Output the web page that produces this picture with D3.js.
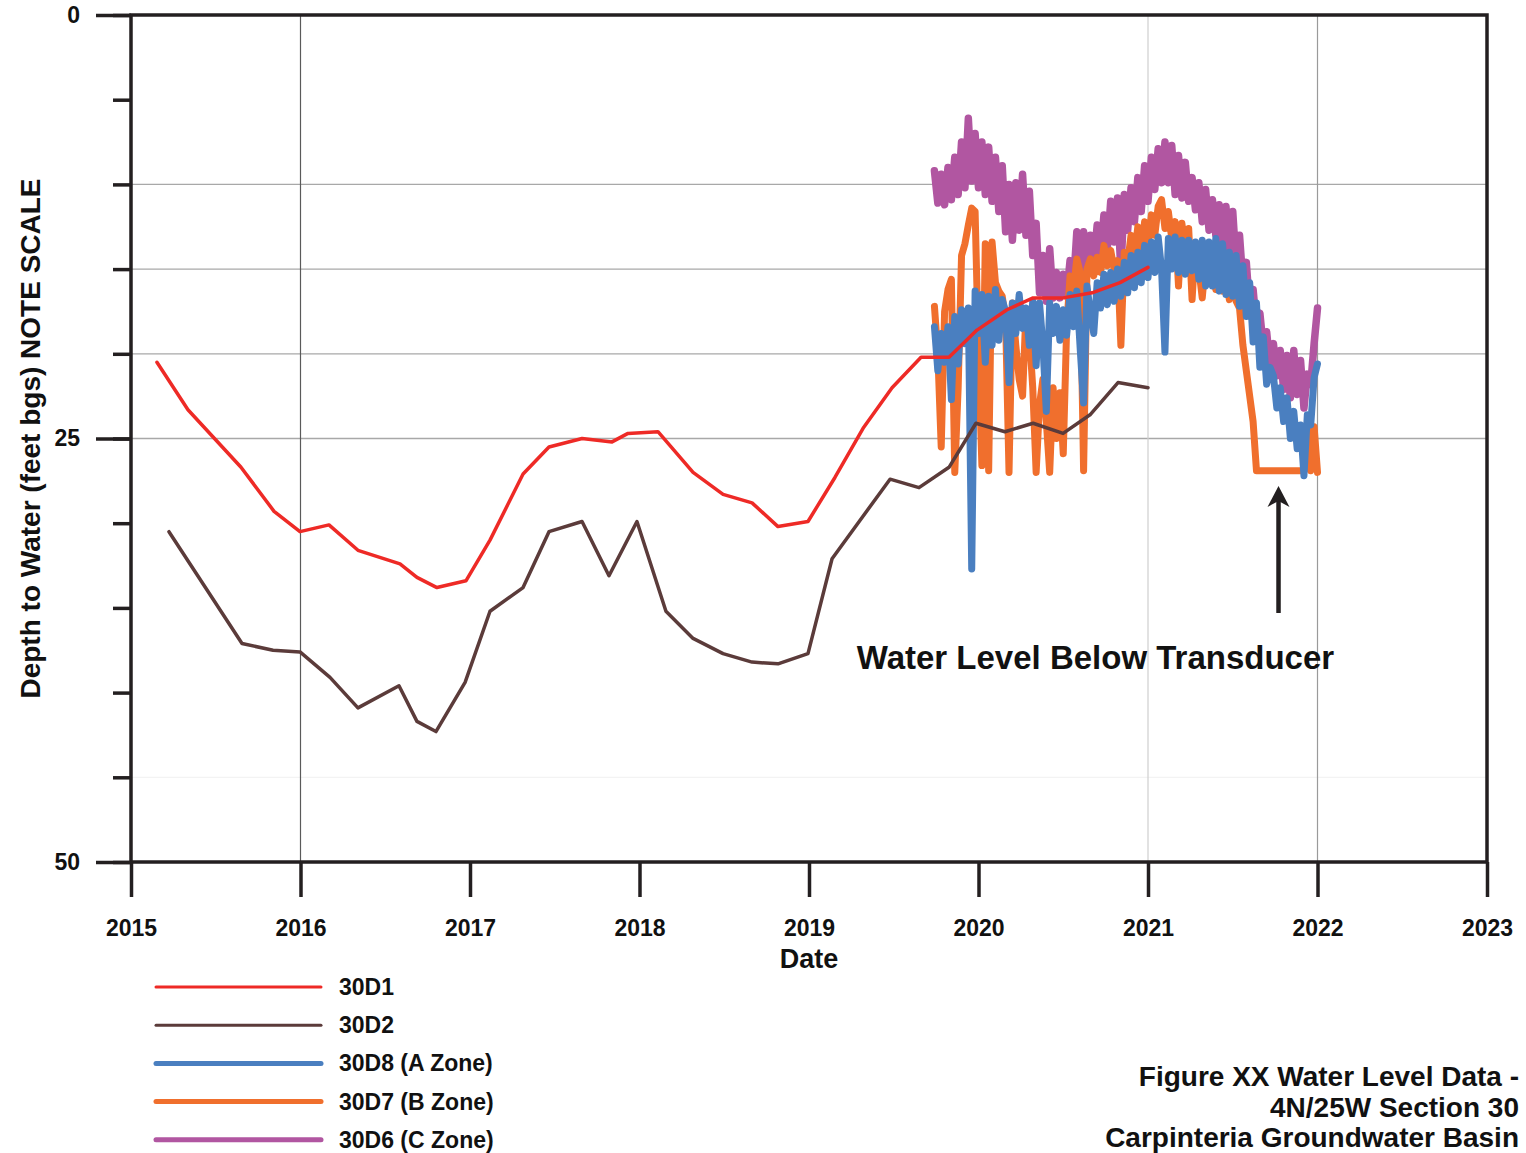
<!DOCTYPE html>
<html>
<head>
<meta charset="utf-8">
<script src="https://cdn.jsdelivr.net/npm/d3@7"></script>
<style>
  body { margin: 0; background: #fff; }
  svg text { font-family: "Liberation Sans", Arial, Helvetica, sans-serif; font-weight: bold; fill: #111; }
</style>
</head>
<body>
<svg id="chart" width="1526" height="1153"></svg>
<script>
// ---------------- data ----------------
const yearTicks = [2015, 2016, 2017, 2018, 2019, 2020, 2021, 2022, 2023];
const depthTicks = [0, 5, 10, 15, 20, 25, 30, 35, 40, 45, 50];
const depthLabels = [0, 25, 50];
const gridDepths = [10, 15, 20, 25, 45];
const gridYears = [2016, 2021, 2022];

// 30D1 manual measurements (decimal year, depth ft bgs)
const d1Years = [2015.153, 2015.336, 2015.649, 2015.844, 2015.997, 2016.168, 2016.339, 2016.587, 2016.687, 2016.805,
  2016.976, 2017.118, 2017.313, 2017.466, 2017.661, 2017.838, 2017.932, 2018.109, 2018.316, 2018.493,
  2018.664, 2018.817, 2018.994, 2019.153, 2019.319, 2019.490, 2019.661, 2019.826, 2019.991, 2020.168,
  2020.322, 2020.499, 2020.670, 2020.835, 2021.000];
const d1Depths = [20.5, 23.3, 26.7, 29.3, 30.5, 30.1, 31.6, 32.4, 33.2, 33.8,
  33.4, 31.0, 27.1, 25.5, 25.0, 25.2, 24.7, 24.6, 27.0, 28.3,
  28.8, 30.2, 29.9, 27.3, 24.4, 22.0, 20.2, 20.2, 18.6, 17.4,
  16.7, 16.7, 16.4, 15.8, 14.9];

// 30D2 manual measurements
const d2Years = [2015.224, 2015.655, 2015.838, 2015.997, 2016.174, 2016.339, 2016.581, 2016.687, 2016.799, 2016.971,
  2017.118, 2017.313, 2017.466, 2017.661, 2017.820, 2017.985, 2018.156, 2018.316, 2018.493, 2018.664,
  2018.817, 2018.994, 2019.136, 2019.478, 2019.649, 2019.826, 2019.985, 2020.156, 2020.322, 2020.499,
  2020.658, 2020.823, 2021.000];
const d2Depths = [30.5, 37.1, 37.5, 37.6, 39.1, 40.9, 39.6, 41.7, 42.3, 39.4,
  35.2, 33.8, 30.5, 29.9, 33.1, 29.9, 35.2, 36.8, 37.7, 38.2,
  38.3, 37.7, 32.1, 27.4, 27.9, 26.7, 24.1, 24.6, 24.1, 24.7,
  23.6, 21.7, 22.0];

// transducer records, sampled every 0.02 yr from the logger start
const loggerStart = 2019.74;
const loggerStep = 0.02;

const d8Depths = [ // 30D8 (A Zone)
  18.4, 21.0, 18.8, 20.5, 18.4, 22.7, 17.8, 20.6, 17.4, 19.4,
  17.3, 32.7, 16.3, 18.8, 16.5, 20.5, 16.6, 19.5, 16.2, 19.2,
  16.8, 17.5, 21.7, 17.0, 18.8, 16.5, 18.5, 17.3, 19.5, 16.9,
  20.7, 17.0, 19.5, 23.4, 17.0, 18.8, 17.2, 19.2, 17.4, 18.9,
  16.5, 18.4, 16.3, 19.7, 22.9, 16.0, 17.6, 18.8, 15.8, 17.3,
  15.3, 17.1, 15.2, 16.9, 15.0, 16.6, 14.6, 16.4, 14.2, 16.1,
  14.0, 15.8, 13.6, 15.5, 13.4, 15.2, 13.1, 15.0, 19.9, 13.2,
  15.0, 13.1, 15.2, 13.3, 15.3, 13.3, 15.1, 13.4, 15.6, 13.3,
  16.0, 13.4, 16.0, 13.2, 16.3, 13.5, 16.5, 14.0, 16.6, 14.2,
  17.2, 14.8, 17.8, 15.8, 19.3, 17.0, 20.8, 19.0, 21.8, 20.8,
  21.3, 23.2, 22.0, 24.0, 22.6, 25.0, 23.4, 25.6, 24.2, 27.2,
  23.6, 24.2, 21.4, 20.6];

const d7Depths = [ // 30D7 (B Zone)
  17.2, 20.0, 25.5, 17.5, 16.2, 15.6, 27.0, 22.0, 14.2, 13.5,
  12.4, 11.4, 11.6, 20.0, 26.6, 13.5, 26.9, 13.4, 15.8, 16.3,
  16.6, 18.0, 27.0, 17.0, 19.5, 21.5, 22.5, 17.5, 18.8, 22.0,
  27.0, 23.0, 21.5, 24.0, 27.0, 22.0, 25.0, 22.3, 25.9, 18.5,
  15.4, 16.2, 14.4, 15.2, 26.9, 15.0, 14.4, 15.4, 14.3, 15.2,
  13.6, 14.8, 13.9, 15.0, 14.5, 19.5, 14.0, 14.6, 13.0, 14.2,
  12.5, 14.0, 12.2, 13.6, 11.8, 13.0, 11.3, 10.9, 12.6, 11.6,
  13.2, 12.2, 16.0, 12.3, 13.8, 12.6, 16.8, 13.5, 15.0, 16.7,
  14.5, 15.6, 15.0, 16.2, 14.3, 16.3, 15.6, 16.8, 16.0, 16.9,
  17.3, 19.5, 21.0, 22.5, 24.0, 26.9, 26.9, 26.9, 26.9, 26.9,
  26.9, 26.9, 26.9, 26.9, 26.9, 26.9, 26.9, 26.9, 26.9, 26.9,
  24.4, 26.9, 24.3, 27.0];

const d6Depths = [ // 30D6 (C Zone)
  9.2, 11.1, 9.4, 11.2, 9.0, 10.9, 8.4, 10.6, 7.5, 10.2,
  6.1, 9.8, 7.0, 10.2, 7.5, 10.6, 7.8, 11.0, 8.4, 11.6,
  8.9, 12.8, 10.0, 13.3, 9.9, 12.7, 9.4, 13.0, 10.4, 14.2,
  12.3, 16.4, 14.2, 16.9, 13.8, 16.7, 15.2, 16.7, 15.3, 16.6,
  14.5, 16.0, 12.8, 15.0, 12.8, 15.0, 13.0, 14.7, 12.4, 14.2,
  11.8, 13.8, 11.0, 13.4, 10.8, 15.2, 10.6, 12.7, 10.2, 12.2,
  9.6, 11.6, 8.9, 11.0, 8.4, 10.3, 7.9, 9.9, 7.5, 9.9,
  7.7, 10.6, 8.3, 10.8, 8.7, 11.0, 9.6, 11.5, 9.9, 12.2,
  10.3, 12.7, 10.9, 13.0, 11.2, 13.5, 11.3, 14.3, 11.6, 14.8,
  13.0, 15.8, 14.6, 17.4, 16.2, 18.4, 17.6, 19.6, 18.7, 20.8,
  19.4, 21.3, 19.8, 22.1, 20.1, 22.6, 19.8, 22.4, 20.4, 23.2,
  21.2, 21.8, 19.4, 17.3];

const seriesNames = ["30D1", "30D2", "30D8 (A Zone)", "30D7 (B Zone)", "30D6 (C Zone)"];
const seriesColors = ["#ee2a26", "#5b3b3a", "#4a7fc0", "#f06f2d", "#b156a1"];
const seriesWidths = [3.5, 3.5, 7, 7, 7.5];

const captionLines = ["Figure XX Water Level Data -", "4N/25W Section 30", "Carpinteria Groundwater Basin"];

// ---------------- chart ----------------
const svg = d3.select("#chart");
const x = d3.scaleLinear().domain([2015, 2023]).range([131, 1487]);
const y = d3.scaleLinear().domain([0, 50]).range([15, 862]);

const pairs = (ys, vs) => ys.map((t, i) => [t, vs[i]]);
const logger = vs => vs.map((v, i) => [loggerStart + i * loggerStep, v]);

const series = [
  pairs(d1Years, d1Depths),
  pairs(d2Years, d2Depths),
  logger(d8Depths),
  logger(d7Depths),
  logger(d6Depths)
];

// gridlines
const gridColor = d => d === 45 ? "#f3f3f3" : "#a8a8a8";
svg.append("g").selectAll("line").data(gridDepths).join("line")
  .attr("x1", x(2015)).attr("x2", x(2023))
  .attr("y1", d => y(d)).attr("y2", d => y(d))
  .attr("stroke", gridColor).attr("stroke-width", 1.3);

const vGridColor = { 2016: "#5a5a5a", 2021: "#cfcfcf", 2022: "#9a9a9a" };
svg.append("g").selectAll("line").data(gridYears).join("line")
  .attr("x1", d => x(d)).attr("x2", d => x(d))
  .attr("y1", y(0)).attr("y2", y(50))
  .attr("stroke", d => vGridColor[d]).attr("stroke-width", 1.2);

// series, drawn so the first legend entry ends up on top
const line = d3.line().x(d => x(d[0])).y(d => y(d[1]));
const order = [4, 3, 2, 1, 0];
svg.append("g").selectAll("path").data(order).join("path")
  .attr("d", k => line(series[k]))
  .attr("fill", "none")
  .attr("stroke", k => seriesColors[k])
  .attr("stroke-width", k => seriesWidths[k])
  .attr("stroke-linejoin", "round")
  .attr("stroke-linecap", "round");

// frame
const axisColor = "#231f20";
svg.append("rect")
  .attr("x", x(2015)).attr("y", y(0))
  .attr("width", x(2023) - x(2015)).attr("height", y(50) - y(0))
  .attr("fill", "none").attr("stroke", axisColor).attr("stroke-width", 3.5);

// x axis
const xAxis = svg.append("g").attr("transform", `translate(0,${y(50)})`)
  .call(d3.axisBottom(x).tickValues(yearTicks).tickSize(35).tickPadding(23).tickFormat(d3.format("d")));
xAxis.select(".domain").remove();
xAxis.selectAll("line").attr("stroke", axisColor).attr("stroke-width", 3.5);
xAxis.selectAll("text").style("font-size", "23px").attr("fill", "#111");

// y axis: short minor ticks, long labelled ticks
const yMinor = svg.append("g").attr("transform", `translate(${x(2015)},0)`)
  .call(d3.axisLeft(y).tickValues(depthTicks).tickSize(18).tickFormat(""));
yMinor.select(".domain").remove();
yMinor.selectAll("line").attr("stroke", axisColor).attr("stroke-width", 3.5);

const yMajor = svg.append("g").attr("transform", `translate(${x(2015)},0)`)
  .call(d3.axisLeft(y).tickValues(depthLabels).tickSize(35).tickPadding(16).tickFormat(d3.format("d")));
yMajor.select(".domain").remove();
yMajor.selectAll("line").attr("stroke", axisColor).attr("stroke-width", 3.5);
yMajor.selectAll("text").style("font-size", "23px").attr("fill", "#111");

// axis titles
svg.append("text")
  .attr("x", x(2019)).attr("y", 968)
  .attr("text-anchor", "middle").style("font-size", "27px")
  .text("Date");

svg.append("text")
  .attr("transform", `translate(40,${y(25)}) rotate(-90)`)
  .attr("text-anchor", "middle").style("font-size", "28px")
  .text("Depth to Water (feet bgs) NOTE SCALE");

// annotation
svg.append("text")
  .attr("x", x(2020.69)).attr("y", y(38.6))
  .attr("text-anchor", "middle").style("font-size", "33px")
  .text("Water Level Below Transducer");

const arrowYear = 2021.77;
svg.append("line")
  .attr("x1", x(arrowYear)).attr("x2", x(arrowYear))
  .attr("y1", y(35.3)).attr("y2", y(28.6))
  .attr("stroke", "#231f20").attr("stroke-width", 4.5);
svg.append("path")
  .attr("transform", `translate(${x(arrowYear)},${y(27.8)})`)
  .attr("d", "M0,0 L11,21 L0,15 L-11,21 Z")
  .attr("fill", "#231f20");

// legend
const legend = svg.append("g").selectAll("g").data(seriesNames).join("g")
  .attr("transform", (d, i) => `translate(156,${987 + i * 38.2})`);
legend.append("line")
  .attr("x1", 0).attr("x2", 165)
  .attr("stroke", (d, i) => seriesColors[i])
  .attr("stroke-width", (d, i) => i < 2 ? 3 : 5)
  .attr("stroke-linecap", "round");
legend.append("text")
  .attr("x", 183).attr("y", 8)
  .style("font-size", "23px")
  .text(d => d);

// caption
svg.append("g").selectAll("text").data(captionLines).join("text")
  .attr("x", 1519).attr("y", (d, i) => 1086 + i * 30.5)
  .attr("text-anchor", "end").style("font-size", "28px")
  .text(d => d);
</script>
</body>
</html>
